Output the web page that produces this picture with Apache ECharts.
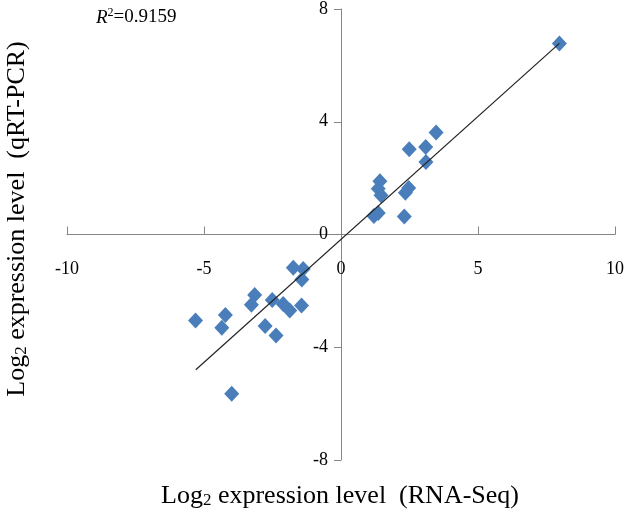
<!DOCTYPE html>
<html>
<head>
<meta charset="utf-8">
<script src="https://cdn.jsdelivr.net/npm/echarts@6/dist/echarts.min.js"></script>
<style>
html,body{margin:0;padding:0;background:#fff;}
#chart{width:630px;height:519px;}
</style>
</head>
<body>
<div id="chart"></div>
<script>
// RNA-Seq log2 values (x)
var rnaSeq = [7.97, 3.47, 2.49, 3.09, 3.10, 1.42, 1.36, 1.46, 2.47, 2.35, 1.20, 1.36, 2.31,
  -1.74, -1.38, -1.43, -3.15, -3.27, -2.51, -2.11, -1.87, -1.44, -5.31, -4.22, -4.35, -2.77, -2.37, -3.99];
// qRT-PCR log2 values (y)
var qrtPcr = [6.78, 3.62, 3.02, 3.10, 2.57, 1.89, 1.62, 1.39, 1.65, 1.48, 0.66, 0.76, 0.64,
  -1.18, -1.22, -1.60, -2.15, -2.49, -2.32, -2.47, -2.70, -2.52, -3.05, -2.86, -3.31, -3.25, -3.58, -5.65];
// linear trendline end points
var trendX = [-5.30, 7.97];
var trendY = [-4.80, 6.78];
var xTicks = [-10, -5, 0, 5, 10];
var yTicks = [-8, -4, 0, 4, 8];
var r2Label = '0.9159';

var points = rnaSeq.map(function (x, i) { return [x, qrtPcr[i]]; });
var trend = trendX.map(function (x, i) { return [x, trendY[i]]; });

var W = 630, H = 519;
var gLeft = 67, gRight = 15, gTop = 9, gBottom = 59;
var xMin = xTicks[0], xMax = xTicks[xTicks.length - 1];
var yMin = yTicks[0], yMax = yTicks[yTicks.length - 1];
var gW = W - gLeft - gRight, gH = H - gTop - gBottom;
// move the axes so they cross at zero (labels travel with them)
var yAxisOffset = -gW * (0 - xMin) / (xMax - xMin);
var xAxisOffset = -gH * (0 - yMin) / (yMax - yMin);

var chart = echarts.init(document.getElementById('chart'), null, {renderer: 'canvas'});
var font = '"Liberation Serif", "Times New Roman", serif';
var axisColor = '#868686';

chart.setOption({
  animation: false,
  backgroundColor: '#fff',
  grid: {left: gLeft, right: gRight, top: gTop, bottom: gBottom, containLabel: false},
  xAxis: {
    type: 'value', position: 'bottom', offset: xAxisOffset,
    min: xMin, max: xMax, interval: xTicks[1] - xTicks[0],
    axisLine: {show: true, onZero: false, lineStyle: {color: axisColor, width: 1}},
    axisTick: {show: true, inside: true, length: 8, lineStyle: {color: axisColor}},
    axisLabel: {color: '#000', fontFamily: font, fontSize: 18, margin: 26},
    splitLine: {show: false}
  },
  yAxis: {
    type: 'value', position: 'left', offset: yAxisOffset,
    min: yMin, max: yMax, interval: yTicks[1] - yTicks[0],
    axisLine: {show: true, onZero: false, lineStyle: {color: axisColor, width: 1}},
    axisTick: {show: true, inside: false, length: 7, lineStyle: {color: axisColor}},
    axisLabel: {color: '#000', fontFamily: font, fontSize: 18, margin: 13},
    splitLine: {show: false}
  },
  series: [
    {
      type: 'scatter',
      data: points,
      symbol: 'diamond',
      symbolSize: [15, 16],
      itemStyle: {color: '#4A7EBB', opacity: 1},
      z: 2
    },
    {
      type: 'line',
      data: trend,
      showSymbol: false,
      symbol: 'none',
      lineStyle: {color: '#222', width: 1.2},
      z: 3
    }
  ],
  graphic: [
    {
      type: 'text',
      left: 96, top: 7,
      style: {
        rich: {
          r: {fontFamily: font, fontSize: 19, fontStyle: 'italic', fill: '#000'},
          s: {fontFamily: font, fontSize: 12, fill: '#000', padding: [0, 0, 9, 0]},
          n: {fontFamily: font, fontSize: 19, fill: '#000'}
        },
        text: '{r|R}{s|2}{n|=' + r2Label + '}'
      }
    },
    {
      type: 'text',
      x: 340, y: 496,
      style: {
        align: 'center', verticalAlign: 'middle',
        rich: {
          a: {fontFamily: font, fontSize: 26, fill: '#000'},
          s: {fontFamily: font, fontSize: 17, fill: '#000', padding: [10, 0, 0, 0]}
        },
        text: '{a|Log}{s|2}{a| expression level  (RNA-Seq)}'
      }
    },
    {
      type: 'text',
      x: 17, y: 219,
      rotation: Math.PI / 2,
      style: {
        align: 'center', verticalAlign: 'middle',
        rich: {
          a: {fontFamily: font, fontSize: 26, fill: '#000'},
          s: {fontFamily: font, fontSize: 17, fill: '#000', padding: [10, 0, 0, 0]}
        },
        text: '{a|Log}{s|2}{a| expression level  (qRT-PCR)}'
      }
    }
  ]
});
</script>
</body>
</html>
